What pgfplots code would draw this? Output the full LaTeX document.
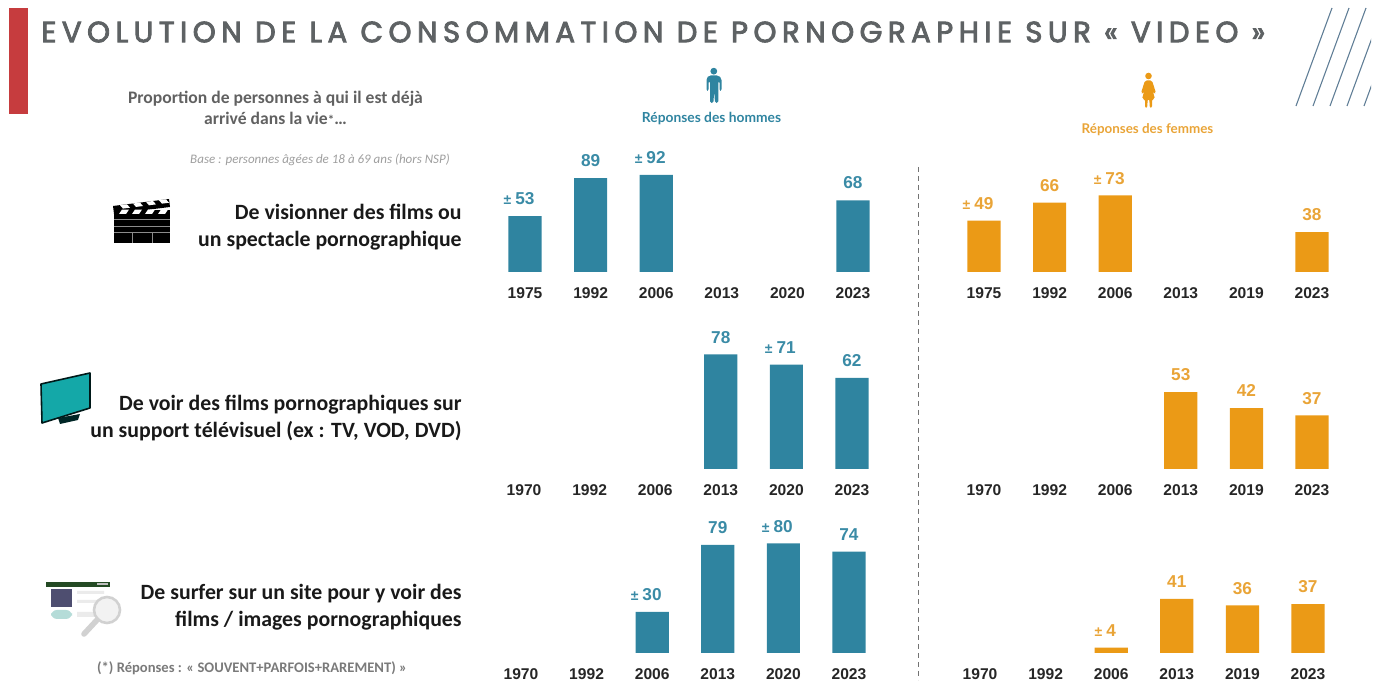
\documentclass[border=0pt]{standalone}
\usepackage{pgfplots}
\pgfplotsset{compat=1.18}
\usepackage{fontspec}
\setmainfont{Liberation Sans}
\newfontfamily\ttl[LetterSpace=18.8,FakeBold=3,WordSpace=1]{Poppins}
\newfontfamily\crl{Carlito}
\newfontfamily\lat{Lato}
\definecolor{teal1}{HTML}{2F84A0}
\definecolor{teal2}{HTML}{3A8BA6}
\definecolor{or1}{HTML}{EB9A16}
\definecolor{or2}{HTML}{E9A437}
\definecolor{grayT}{HTML}{5E6264}
\definecolor{redB}{RGB}{198,60,62}
\definecolor{hatch}{RGB}{96,126,150}
\definecolor{tvf}{RGB}{20,168,168}
\definecolor{wgreen}{RGB}{36,74,36}
\definecolor{wnavy}{RGB}{78,78,112}
\definecolor{wpill}{RGB}{181,220,216}
\protected\def\PM{{\fontsize{7}{7}\selectfont ±}\kern2pt}
\protected\def\PE{\kern6pt}
% #1 x centre of first bar (px), #2 baseline (px), #3 px per unit, #4 colour, #5 label colour, #6 tick names, #7 coords
\newcommand{\panel}[7]{%
\begin{axis}[
  at={({(#1-32.8)*0.5pt},{(684-#2)*0.5pt})}, anchor=south west,
  scale only axis, width=196.8pt, height={100*#3*0.5pt},
  xmin=-0.5, xmax=5.5, ymin=0, ymax=100, enlargelimits=false, clip=false,
  axis x line*=bottom, axis y line=none, axis line style={draw=none},
  major tick length=0pt, xtick={0,1,2,3,4,5}, xticklabels={#6}, ytick=\empty,
  xticklabel style={font=\fontsize{7.8}{9}\selectfont\bfseries, text=black!85, inner sep=0pt, anchor=center, yshift=-10.4pt},
  ybar, bar width=16.6pt,
  point meta=explicit symbolic,
  nodes near coords={\pgfplotspointmeta},
  every node near coord/.append style={font=\fontsize{8.6}{10}\selectfont\bfseries, text=#5, inner sep=0pt, anchor=center, yshift=8.6pt},
]
\addplot[fill=#4, draw=none] coordinates {#7};
\end{axis}}
\begin{document}
\begin{tikzpicture}[x=0.5pt,y=0.5pt]
\useasboundingbox (0,0) rectangle (1382,684);
\panel{525}{272}{1.055}{teal1}{teal2}{1975,1992,2006,2013,2020,2023}{(0,53)[\PM 53\PE] (1,89)[89] (2,92)[\PM 92\PE] (5,68)[68]}
\panel{524}{469}{1.47}{teal1}{teal2}{1970,1992,2006,2013,2020,2023}{(3,78)[78] (4,71)[\PM 71\PE] (5,62)[62]}
\panel{521}{653}{1.37}{teal1}{teal2}{1970,1992,2006,2013,2020,2023}{(2,30)[\PM 30\PE] (3,79)[79] (4,80)[\PM 80\PE] (5,74)[74]}
\panel{984}{272}{1.05}{or1}{or2}{1975,1992,2006,2013,2019,2023}{(0,49)[\PM 49\PE] (1,66)[66] (2,73)[\PM 73\PE] (5,38)[38]}
\panel{984}{469}{1.45}{or1}{or2}{1970,1992,2006,2013,2019,2023}{(3,53)[53] (4,42)[42] (5,37)[37]}
\panel{980}{653}{1.32}{or1}{or2}{1970,1992,2006,2013,2019,2023}{(2,4)[\PM 4\PE] (3,41)[41] (4,36)[36] (5,37)[37]}
\begin{scope}[shift={(0,684)},yscale=-1]
% red bar and title
\fill[redB] (9,8) rectangle (28,114);
\node[anchor=west,inner sep=0pt,text=grayT] at (41,32) {\ttl\fontsize{14.6}{16}\selectfont EVOLUTION DE LA CONSOMMATION DE PORNOGRAPHIE SUR « VIDEO »};
% hatch
\begin{scope}
\clip (1290,0) rectangle (1371,110);
\foreach \a/\b in {1332/8,1349/8,1366/8,1383/8,1400/8}
  \draw[hatch,line width=0.55pt] (\a,\b) -- ++(-36,98);
\end{scope}
% header text
\node[align=center,inner sep=0pt,text=black!62,font=\crl\bfseries\fontsize{8.8}{10.5}\selectfont] at (275.5,107.5) {Proportion de personnes à qui il est déjà\\arrivé dans la vie{\fontsize{6.5}{6}\selectfont *}\ldots};
\node[inner sep=0pt,text=black!38,font=\crl\itshape\fontsize{6.5}{8}\selectfont] at (320,160) {Base : personnes âgées de 18 à 69 ans (hors NSP)};
\node[inner sep=0pt,text=black!52,font=\crl\bfseries\fontsize{7.3}{9}\selectfont] at (252,668) {(*) Réponses : « SOUVENT+PARFOIS+RAREMENT) »};
\node[inner sep=0pt,text=teal1,font=\lat\bfseries\fontsize{6.9}{8}\selectfont] at (711.5,118.5) {Réponses des hommes};
\node[inner sep=0pt,text=or2,font=\lat\bfseries\fontsize{6.7}{8}\selectfont] at (1147.5,129.5) {Réponses des femmes};
% row labels
\node[anchor=east,align=right,inner sep=0pt,text=black!90,font=\crl\bfseries\fontsize{10.9}{13.4}\selectfont] at (462,227) {De visionner des films ou\\un spectacle pornographique};
\node[anchor=east,align=right,inner sep=0pt,text=black!90,font=\crl\bfseries\fontsize{10.9}{13.4}\selectfont] at (462,418) {De voir des films pornographiques sur\\un support télévisuel (ex : TV, VOD, DVD)};
\node[anchor=east,align=right,inner sep=0pt,text=black!90,font=\crl\bfseries\fontsize{10.9}{13.4}\selectfont] at (462,607.5) {De surfer sur un site pour y voir des\\films / images pornographiques};
% dashed divider
\draw[black!55,line width=0.5pt,dash pattern=on 2.5pt off 2pt] (918,167) -- (918,680);
% man
\fill[teal1] (713.8,71.2) circle (3.4);
\fill[teal1,rounded corners=0.8] (709,75.5) -- (718.5,75.5) -- (721.5,78.5) -- (721.5,91) -- (719.5,91) -- (719.5,81) -- (718.3,81) -- (718.3,103) -- (715,103) -- (714.2,91) -- (713.4,103) -- (710,103) -- (710,81) -- (708.5,81) -- (708.5,91) -- (706.5,91) -- (706.5,78.5) -- cycle;
% woman
\fill[or1] (1148.5,76) circle (3.3);
\fill[or1,rounded corners=0.8] (1145,80.5) -- (1152,80.5) -- (1156,93) -- (1154,94) -- (1152,88) -- (1155,99) -- (1152,99) -- (1152,108) -- (1149.8,108) -- (1149.3,99) -- (1147.7,99) -- (1147.2,108) -- (1145,108) -- (1145,99) -- (1142,99) -- (1145,88) -- (1143,94) -- (1141,93) -- cycle;
% clapperboard
\fill[black] (114,213) rectangle (170,243);
\fill[black] (113,206) -- (169,199) -- (170,207) -- (114,214) -- cycle;
\foreach \s in {0,1,2,3}
  \fill[white] (120+13*\s,205.2-1.65*\s) -- (127+13*\s,204.3-1.65*\s) -- (130+13*\s,207.7-1.65*\s) -- (123+13*\s,208.6-1.65*\s) -- cycle;
\fill[black] (114,210) rectangle (170,214);
\foreach \s in {0,1,2,3}
  \fill[white] (122+13*\s,209.6) -- (129+13*\s,209.6) -- (126+13*\s,214) -- (119+13*\s,214) -- cycle;
\draw[black!45,line width=0.5pt] (114,220) -- (170,220) (114,227) -- (170,227) (114,233) -- (170,233) (132,233) -- (132,243) (152,233) -- (152,243);
% TV
\fill[black!70!teal] (58,418) -- (80,414) -- (78,420) -- (60,424) -- cycle;
\filldraw[fill=tvf,draw=black!80!teal,line width=0.8pt,line join=round] (41,384) -- (90,373) -- (90,408) -- (42,423) -- cycle;
% web icon
\fill[wgreen] (46,582) rectangle (110,587);
\fill[black!25] (97,583.5) rectangle (108,585.5);
\fill[wnavy] (51,589) rectangle (72,607);
\fill[black!8] (77,591) rectangle (104,594) (77,600) rectangle (100,603) (77,612) rectangle (96,617);
\fill[wpill,rounded corners=3] (51,610) rectangle (72,619);
\draw[black!18,line width=1.3pt,fill=black!5] (107,610) circle (13);
\draw[black!18,line width=2.8pt,line cap=round] (97,620) -- (84,634);
\end{scope}
\end{tikzpicture}
\end{document}
